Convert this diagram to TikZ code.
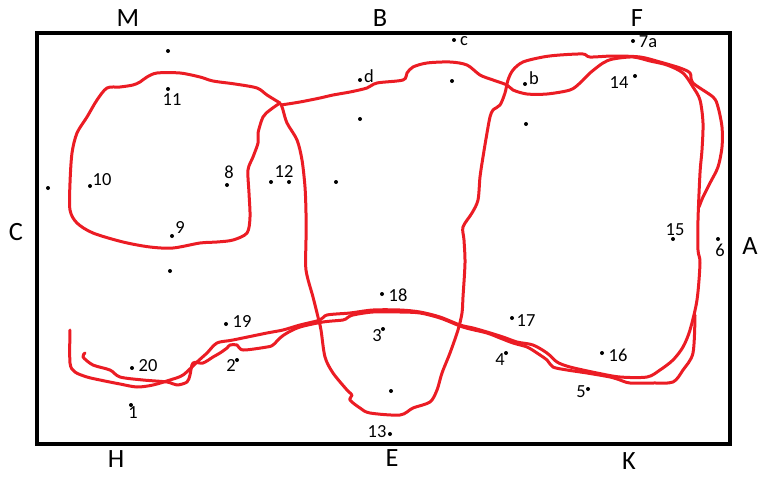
\documentclass[tikz,border=0pt]{standalone}
\usepackage{fontspec}
\setmainfont{Carlito}
\definecolor{paintred}{RGB}{235,28,36}
\begin{document}
\begin{tikzpicture}[x=0.02cm, y=-0.02cm,
	route/.style={paintred, line width=0.06cm, line cap=round, line join=round},
	dot/.style={circle, fill=black, inner sep=0pt, minimum size=0.08cm},
	lbl/.style={font=\fontsize{10.5}{12}\selectfont, inner sep=0pt},
	side/.style={font=\fontsize{15}{18}\selectfont, inner sep=0pt}]
	% picture is laid out in pixels of the 768x480 sketch (y grows downwards)
	\useasboundingbox (0,0) rectangle (768,480);
	\draw[line width=0.085cm] (37,33) rectangle (730,444);
	% the letters round the frame
	\node[side] (sM) at (128,18) {M};
	\node[side] (sB) at (380,18) {B};
	\node[side] (sF) at (637,18) {F};
	\node[side] (sC) at (16,232) {C};
	\node[side] (sA) at (750,246) {A};
	\node[side] (sH) at (116,459) {H};
	\node[side] (sE) at (392,458) {E};
	\node[side] (sK) at (629,461) {K};
	% the points, labelled and not
	\foreach \n/\x/\y in {p1/131/405, p2/237/360, p3/383/329, p4/506/353, p5/588/389,
			p6/718/239, p7a/633/41, p8/227/185, p9/172/236, p10/90/186, p11/168/89,
			p12a/271/182, p12b/289/182, p13/390/434, p14/635/76, p15/673/239, p16/602/353,
			p17/512/318, p18/382/294, p19/226/324, p20/132/368, pb/525/84, pc/454/40,
			pd/360/80, u1/168/51, u2/360/119, u3/336/182, u4/48/188, u5/170/271,
			u6/452/81, u7/526/124, u8/391/391}
		\node[dot] (\n) at (\x,\y) {};
	\foreach \n/\t/\x/\y in {l1/1/133/413, l2/2/231/366, l3/3/377/336, l4/4/500/360,
			l5/5/581/392, l6/6/720/250, l7a/7a/648/42, l8/8/229/172, l9/9/180/228,
			l10/10/102/180, l11/11/172/100, l12/12/284/172, l13/13/377/432, l14/14/619/83,
			l15/15/675/230, l16/16/618/355, l17/17/526/321, l18/18/398/295, l19/19/242/322,
			l20/20/148/366, lb/b/534/78, lc/c/464/41, ld/d/369/76}
		\node[lbl] (\n) at (\x,\y) {\t};
	% left loop round 8, 9, 10, 11
	\draw[route] plot[smooth, tension=0.5] coordinates {(280,103) (267,95) (257,88) (235,84)
		(213,81) (200,77) (180,73) (157,73) (147,77) (140,82) (133,85) (120,87) (107,88)
		(97,100) (87,117) (77,133) (72,153) (70,183) (70,210) (77,223) (93,233) (123,242)
		(150,247) (173,248) (200,243) (217,242) (233,240) (247,233) (250,217) (249,193)
		(248,170) (253,157) (258,143) (258,133) (263,117) (270,110) (280,103)};
	% top route under b, down the right side and back along the bottom
	\draw[route] plot[smooth, tension=0.5] coordinates {(281,105) (300,102) (320,98)
		(333,95) (350,92) (367,88) (377,83) (403,80) (407,73) (413,67) (427,63) (450,62)
		(467,65) (480,75) (493,80) (507,85) (513,90) (527,94) (547,94) (570,90) (580,83)
		(590,73) (603,63) (613,59) (633,57) (650,61) (667,65) (683,73) (693,87) (700,100)
		(703,123) (702,150) (700,173) (698,220) (698,250) (700,263) (697,300) (690,330)
		(683,347) (673,360) (660,370) (647,377) (620,377) (597,373) (570,367) (557,362)
		(547,353) (533,345) (517,342) (503,337) (487,332) (473,328) (460,325) (440,317)
		(420,312) (400,310) (373,310) (350,313) (327,315) (320,320) (300,325) (283,330)
		(267,333) (233,340) (217,343) (207,353) (197,362) (183,375) (170,380) (153,385)
		(137,387) (120,384) (100,380) (87,377) (75,372) (70,363) (70,330)};
	% middle loop down to 13, up over b and round the outside near A
	\draw[route] plot[smooth, tension=0.5] coordinates {(281,104) (283,110) (287,123)
		(297,140) (302,160) (305,187) (306,213) (306,240) (306,270) (313,297) (318,317)
		(321,330) (325,357) (333,373) (347,390) (352,395) (350,400) (360,408) (370,413)
		(400,415) (413,408) (430,402) (437,390) (442,373) (450,353) (458,330) (462,313)
		(463,297) (465,263) (464,240) (463,227) (472,213) (478,200) (480,177) (483,157)
		(487,133) (490,117) (493,110) (500,105) (505,93) (508,80) (513,70) (523,62)
		(543,57) (560,55) (583,54) (590,57) (613,56) (640,57) (660,62) (680,68) (690,73)
		(693,83) (713,97) (718,107) (722,127) (722,147) (718,167) (710,183) (703,197)
		(699,207)};
	% second pass along the bottom, ending in the hook by 20
	\draw[route] plot[smooth, tension=0.5] coordinates {(695,315) (693,353) (683,370)
		(673,382) (653,383) (630,383) (620,380) (610,377) (587,373) (567,370) (553,367)
		(547,360) (537,353) (527,347) (513,343) (500,338) (487,333) (470,329) (460,326)
		(440,318) (420,313) (400,312) (373,312) (353,315) (347,318) (343,320) (323,322)
		(300,327) (287,333) (280,338) (273,345) (267,347) (243,350) (237,345) (230,345)
		(227,348) (220,353) (213,357) (203,363) (193,363) (190,375) (187,382) (177,385)
		(167,382) (143,380) (120,377) (110,370) (93,365) (83,357) (85,353)};
\end{tikzpicture}
\end{document}
